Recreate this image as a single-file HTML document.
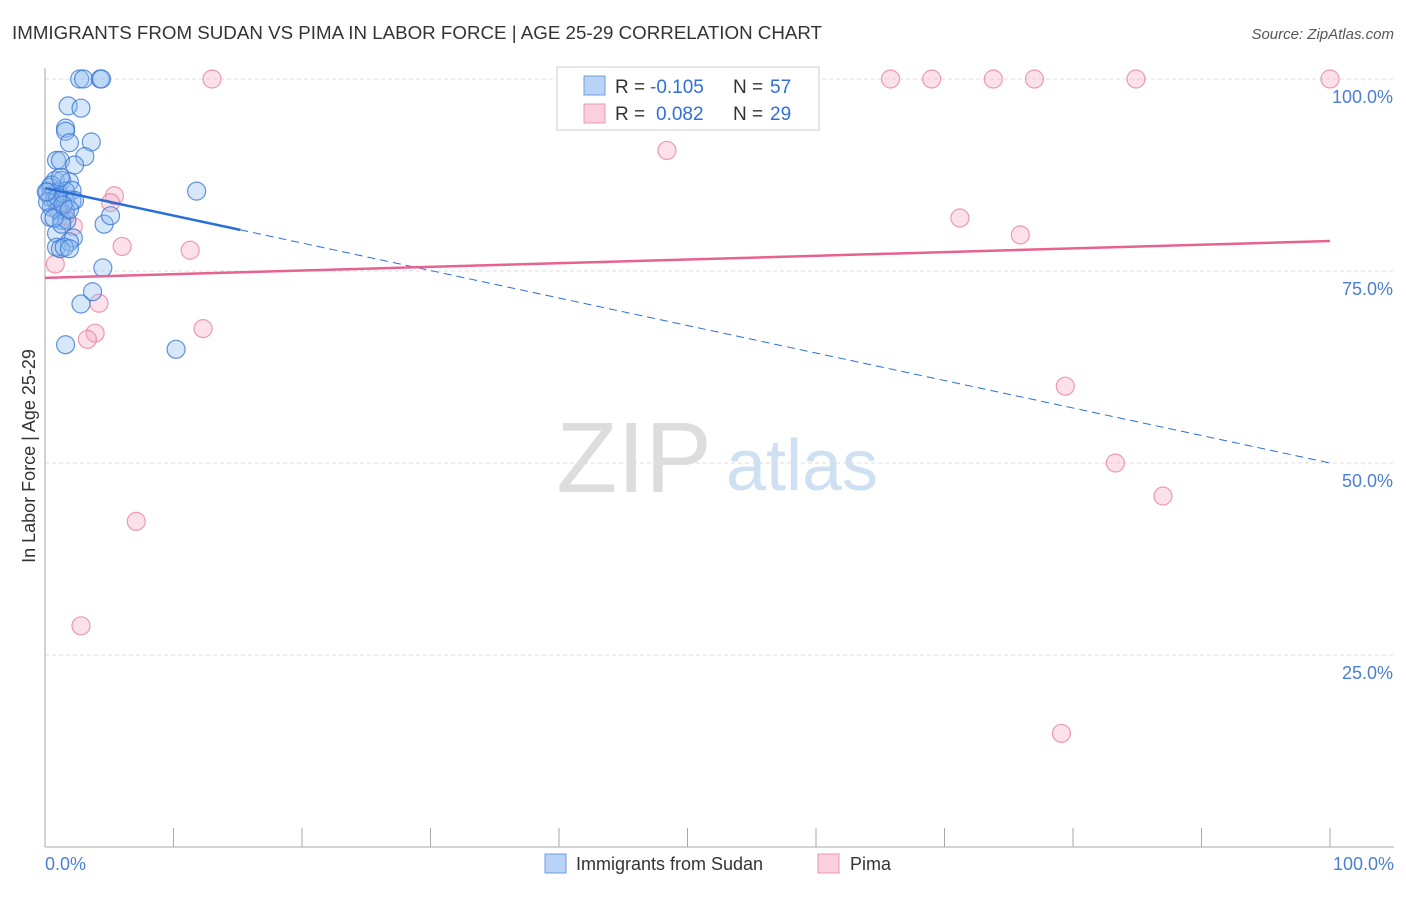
<!DOCTYPE html>
<html><head><meta charset="utf-8"><style>
body{margin:0;background:#fff;font-family:"Liberation Sans",sans-serif;}
svg text{font-family:"Liberation Sans",sans-serif;}
</style></head><body>
<svg id="chart" width="1406" height="892" viewBox="0 0 1406 892" xmlns="http://www.w3.org/2000/svg">
<text x="12" y="39" font-size="18" fill="#333" textLength="810" lengthAdjust="spacingAndGlyphs">IMMIGRANTS FROM SUDAN VS PIMA IN LABOR FORCE | AGE 25-29 CORRELATION CHART</text>
<text x="1394" y="39" font-size="15" fill="#555" font-style="italic" text-anchor="end">Source: ZipAtlas.com</text>
<text x="634" y="492" font-size="100" fill="#ddd" font-family="Liberation Serif" text-anchor="middle">ZIP</text>
<text x="802" y="490" font-size="72" fill="#cfe0f3" text-anchor="middle">atlas</text>
<g id="grid"></g>
<g id="axes"></g>
<g id="marks"></g>
<text x="35" y="456" font-size="18" fill="#333" text-anchor="middle" transform="rotate(-90 35 456)">In Labor Force | Age 25-29</text>
<g>
<rect x="557" y="67" width="262" height="63" fill="#fff" stroke="#ccc"/>
<rect x="584" y="76" width="21" height="19" fill="#b8d3f5" stroke="#6d9ee0"/>
<rect x="584" y="104" width="21" height="19" fill="#fbcfdc" stroke="#ec9ab4"/>
<text x="615" y="93" font-size="19" fill="#333">R =</text>
<text x="650" y="93" font-size="19" fill="#2f6fd6">-0.105</text>
<text x="733" y="93" font-size="19" fill="#333">N =</text>
<text x="770" y="93" font-size="19" fill="#2f6fd6">57</text>
<text x="615" y="120" font-size="19" fill="#333">R =</text>
<text x="656" y="120" font-size="19" fill="#2f6fd6">0.082</text>
<text x="733" y="120" font-size="19" fill="#333">N =</text>
<text x="770" y="120" font-size="19" fill="#2f6fd6">29</text>
</g>
<g>
<rect x="545" y="854" width="21" height="19" fill="#b8d3f5" stroke="#6d9ee0"/>
<text x="576" y="870" font-size="18" fill="#333">Immigrants from Sudan</text>
<rect x="818" y="854" width="21" height="19" fill="#fbcfdc" stroke="#ec9ab4"/>
<text x="850" y="870" font-size="18" fill="#333">Pima</text>
</g>
</svg>
<script>
const yTicks=[25,50,75,100];
const yTickLabels=["25.0%","50.0%","75.0%","100.0%"];
const xLabels=["0.0%","100.0%"];
const sudanX=[2.7,3.0,4.3,4.4,1.8,2.8,1.6,1.6,1.9,3.6,3.1,0.9,1.2,2.3,0.8,1.3,1.9,0.4,1.0,1.6,2.1,0.4,0.8,1.6,2.1,0.5,1.0,1.6,0.4,1.3,1.7,0.9,2.2,4.6,5.1,11.8,0.9,1.9,1.2,1.5,1.9,4.5,3.7,2.8,1.6,10.2,0.2,0.5,1.2,1.3,0.2,0.7,2.3,1.0,1.4,0.1,1.9];
const sudanY=[100,100,100,100,96.5,96.2,93.6,93.2,91.7,91.8,89.9,89.4,89.4,88.8,86.8,86.8,86.6,85.9,85.3,85.4,85.5,84.6,84.4,84.2,84.1,83.3,82.9,82.9,82.0,81.6,81.6,79.9,79.3,81.1,82.2,85.4,78.1,78.8,77.9,78.1,77.9,75.4,72.3,70.7,65.4,64.8,85.3,86.2,87.2,81.1,84.0,81.9,84.2,84.6,83.6,85.3,83.0];
const pimaX=[13,65.8,69,73.8,77,84.9,100,48.4,5.4,5.1,71.2,75.9,6,11.3,2.2,0.8,4.2,12.3,3.9,3.3,79.4,83.3,87,7.1,2.8,79.1,1.2,0.8,1.6];
const pimaY=[100,100,100,100,100,100,100,90.7,84.8,83.9,81.9,79.7,78.2,77.7,80.8,75.9,70.8,67.5,66.9,66.1,60,50,45.7,42.4,28.8,14.8,82.9,84.2,82.2];
const sudanTrend=[85.8,50.0];
const pimaTrend=[74.1,78.9];
const NS="http://www.w3.org/2000/svg";
const X=v=>45+v*12.85, Y=v=>847-v*7.68;
function mk(tag,attrs,parent){const e=document.createElementNS(NS,tag);for(const k in attrs)e.setAttribute(k,attrs[k]);document.getElementById(parent).appendChild(e);return e;}
yTicks.forEach((t,i)=>{
 const g=mk('line',{x1:45,x2:1394,y1:Y(t),y2:Y(t),stroke:'#ddd','stroke-dasharray':'4 3'},'grid');
 
 
 const tx=mk('text',{x:1393,y:Y(t)+24,'font-size':18,fill:'#4a7fd4','text-anchor':'end'},'axes');
 tx.textContent=yTickLabels[i];
 
 
});
const ax=mk('line',{x1:45,x2:45,y1:68,y2:847,stroke:'#aaa'},'axes');


const bx=mk('line',{x1:45,x2:1394,y1:847,y2:847,stroke:'#aaa'},'axes');


for(let i=0;i<=10;i++){const t=mk('line',{x1:X(i*10),x2:X(i*10),y1:828,y2:847,stroke:'#aaa'},'axes');
 
 }
[[0,45,'start'],[100,1394,'end']].forEach((d,i)=>{const t=mk('text',{x:d[1],y:870,'font-size':18,fill:'#4a7fd4','text-anchor':d[2]},'axes');t.textContent=xLabels[i];
 
 });
pimaX.forEach((x,i)=>{const c=mk('circle',{cx:X(x),cy:Y(pimaY[i]),r:9,fill:'rgba(247,170,195,0.35)',stroke:'rgba(232,130,165,0.8)','stroke-width':1.2},'marks');
 
 });
sudanX.forEach((x,i)=>{const c=mk('circle',{cx:X(x),cy:Y(sudanY[i]),r:9,fill:'rgba(140,185,240,0.35)',stroke:'rgba(60,120,210,0.8)','stroke-width':1.2},'marks');
 
 });
const sAt=x=>sudanTrend[0]+(sudanTrend[1]-sudanTrend[0])*x/100;
const l1=mk('line',{x1:X(0),y1:Y(sAt(0)),x2:X(15.2),y2:Y(sAt(15.2)),stroke:'#2a6fd6','stroke-width':2.5},'marks');


const l2=mk('line',{x1:X(15.2),y1:Y(sAt(15.2)),x2:X(100),y2:Y(sAt(100)),stroke:'#2a6fd6','stroke-width':1,'stroke-dasharray':'8 5'},'marks');


const l3=mk('line',{x1:X(0),y1:Y(pimaTrend[0]),x2:X(100),y2:Y(pimaTrend[1]),stroke:'#e8628f','stroke-width':2.5},'marks');


</script>
</body></html>
